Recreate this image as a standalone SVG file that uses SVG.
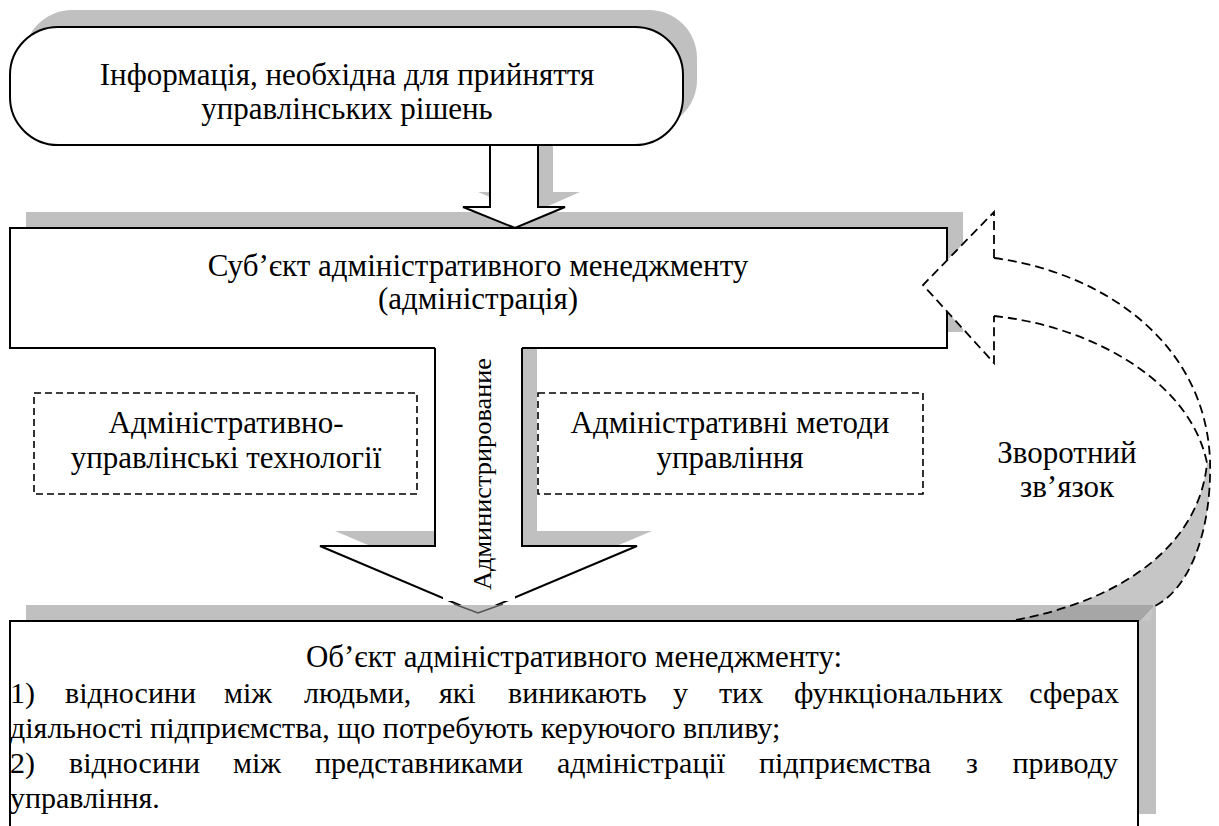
<svg xmlns="http://www.w3.org/2000/svg" width="1219" height="826" viewBox="0 0 1219 826">
<style>
text{font-family:"Liberation Serif","Times New Roman",serif;font-size:31px;fill:#000}
.c{text-anchor:middle}
.e{text-anchor:end}
.b{font-size:30px}
.sh{fill:#c0c0c0;stroke:none}
.box{fill:#fff;stroke:#000;stroke-width:2}
.dash{fill:#fff;stroke:#000;stroke-width:1.6;stroke-dasharray:7 4}
.fb{fill:none;stroke:#000;stroke-width:1.8;stroke-dasharray:9 5}
</style>
<rect width="1219" height="826" fill="#fff"/>
<g id="shadows">
<rect class="sh" x="24" y="10" width="673" height="118" rx="48"/>
<rect class="sh" x="26" y="212" width="937" height="120"/>
<polygon class="sh" points="505,130 505,192 478,192 530,214 580,192 553,192 553,130"/>
<polygon class="sh" points="450,333 450,531 335,531 493,598 652,531 537,531 537,333"/>
</g>
<g id="info">
<rect class="box" x="10" y="27" width="673" height="118" rx="48"/>
<text class="c" x="347" y="85">Інформація, необхідна для прийняття</text>
<text class="c" x="347" y="119">управлінських рішень</text>
</g>
<g id="subject">
<rect class="box" x="10" y="228" width="937" height="120"/>
<text class="c" x="478" y="276">Суб’єкт адміністративного менеджменту</text>
<text class="c" x="478" y="309">(адміністрація)</text>
</g>
<g id="connectors">
<polygon points="490,145 490,207 463,207 515,228 565,207 538,207 538,145" fill="#fff" stroke="#000" stroke-width="2"/>
<polygon points="435,346 435,546 320,546 478,613 637,546 522,546 522,346" fill="#fff" stroke="none"/>
<polyline points="435,348 435,546 320,546 478,613 637,546 522,546 522,348" fill="none" stroke="#000" stroke-width="2"/>
<rect x="443" y="352" width="72" height="249" fill="#fff"/>
<text x="0" y="0" transform="translate(491,474) rotate(-90)" class="c" style="font-size:26px" textLength="232" lengthAdjust="spacingAndGlyphs">Администрирование</text>
</g>
<g id="tech">
<rect class="dash" x="34" y="393" width="383" height="101"/>
<text class="c" x="226" y="433">Адміністративно-</text>
<text class="c" x="226" y="468">управлінські технології</text>
</g>
<g id="methods">
<rect class="dash" x="538" y="393" width="385" height="101"/>
<text class="c" x="730" y="433">Адміністративні методи</text>
<text class="c" x="730" y="468">управління</text>
</g>
<g id="object">
<rect class="sh" x="26" y="605" width="1130" height="209"/>
<path d="M1207,463 C1200,540 1130,600 1010,621 L1150,621 L1153,607 C1190,590 1212,530 1210,463 Z" fill="#c6c6c6"/>
<path d="M1073,605 Q1045,614 1010,621 L1140,621 L1153,607 L1153,605 Z" fill="#a6a6a6"/>
<path d="M454,604 L478,613 L503,604" fill="none" stroke="#555" stroke-width="1.6"/>
<rect class="box" x="10" y="621" width="1128" height="230"/>
<text class="c" x="574" y="667">Об’єкт адміністративного менеджменту:</text>
<text class="b" y="703"><tspan x="10">1)</tspan> <tspan x="65">відносини</tspan> <tspan x="224">між</tspan> <tspan x="304">людьми,</tspan> <tspan x="439">які</tspan> <tspan x="508">виникають</tspan> <tspan x="673">у</tspan> <tspan x="719">тих</tspan> <tspan x="794">функціональних</tspan> <tspan class="e" x="1119">сферах</tspan></text>
<text class="b" x="10" y="738">діяльності підприємства, що потребують керуючого впливу;</text>
<text class="b" y="773"><tspan x="10">2)</tspan> <tspan x="69">відносини</tspan> <tspan x="233">між</tspan> <tspan x="315">представниками</tspan> <tspan x="557">адміністрації</tspan> <tspan x="759">підприємства</tspan> <tspan x="966">з</tspan> <tspan class="e" x="1118">приводу</tspan></text>
<text class="b" x="10" y="808">управління.</text>
</g>
<g id="feedback">
<polygon points="994,258 994,212 923,285 994,363 994,316 1000,316 1000,258" fill="#fff"/>
<path class="fb" d="M994,258 L994,212 L923,285 L994,363 L994,316"/>
<path class="fb" d="M994,258 C1100,272 1205,340 1210,460 C1212,530 1190,590 1153,607"/>
<path class="fb" d="M994,316 C1090,326 1190,380 1207,463 C1200,540 1130,600 1010,621"/>
<text class="c" x="1067" y="463">Зворотний</text>
<text class="c" x="1067" y="497">зв’язок</text>
</g>
</svg>
